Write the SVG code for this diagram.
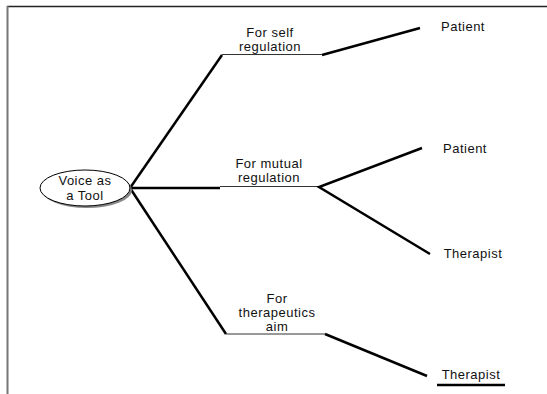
<svg xmlns="http://www.w3.org/2000/svg" width="547" height="394" viewBox="0 0 547 394">
<style>
text{font-family:"Liberation Sans",Arial,sans-serif;font-size:13px;letter-spacing:0.5px;fill:#111;text-anchor:middle}
.thick{stroke:#000;stroke-width:2.5;fill:none;stroke-linecap:butt}
.thin{stroke:#333;stroke-width:1;fill:none}
</style>
<rect width="547" height="394" fill="#fff"/>
<g id="frame">
<line x1="7" y1="6.5" x2="547" y2="6.5" stroke="#222" stroke-width="1.5"/>
<line x1="7.5" y1="6" x2="7.5" y2="394" stroke="#777" stroke-width="2"/>
</g>
<g id="connectors">
<line class="thick" x1="420" y1="28" x2="322" y2="55"/>
<line class="thin" x1="222" y1="54.5" x2="322" y2="54.5"/>
<line class="thick" x1="222" y1="55" x2="130" y2="188"/>
<line class="thick" x1="130" y1="188" x2="220" y2="188"/>
<line class="thin" x1="220" y1="186.5" x2="319" y2="186.5"/>
<polyline class="thick" points="422,148 319,187 430,254"/>
<line class="thick" x1="130" y1="188" x2="226" y2="334"/>
<line class="thin" x1="226" y1="334" x2="325" y2="334"/>
<line class="thick" x1="325" y1="334" x2="427" y2="376"/>
</g>
<g id="root">
<ellipse cx="87" cy="190" rx="45" ry="18" fill="#888"/>
<ellipse cx="85" cy="188" rx="45" ry="18" fill="#fff" stroke="#000" stroke-width="1"/>
<text x="85" y="185">Voice as</text>
<text x="85" y="200">a Tool</text>
</g>
<g id="self">
<text x="270" y="37">For self</text>
<text x="270" y="51">regulation</text>
</g>
<g id="patient1"><text x="463" y="31">Patient</text></g>
<g id="mutual">
<text x="269" y="168">For mutual</text>
<text x="269" y="182">regulation</text>
</g>
<g id="patient2"><text x="465" y="153">Patient</text></g>
<g id="therapist1"><text x="473" y="258">Therapist</text></g>
<g id="thera">
<text x="277" y="303">For</text>
<text x="277" y="317">therapeutics</text>
<text x="277" y="331">aim</text>
</g>
<g id="therapist2">
<text x="471" y="379">Therapist</text>
<line x1="437" y1="385" x2="505" y2="385" stroke="#000" stroke-width="2.5"/>
</g>
</svg>
